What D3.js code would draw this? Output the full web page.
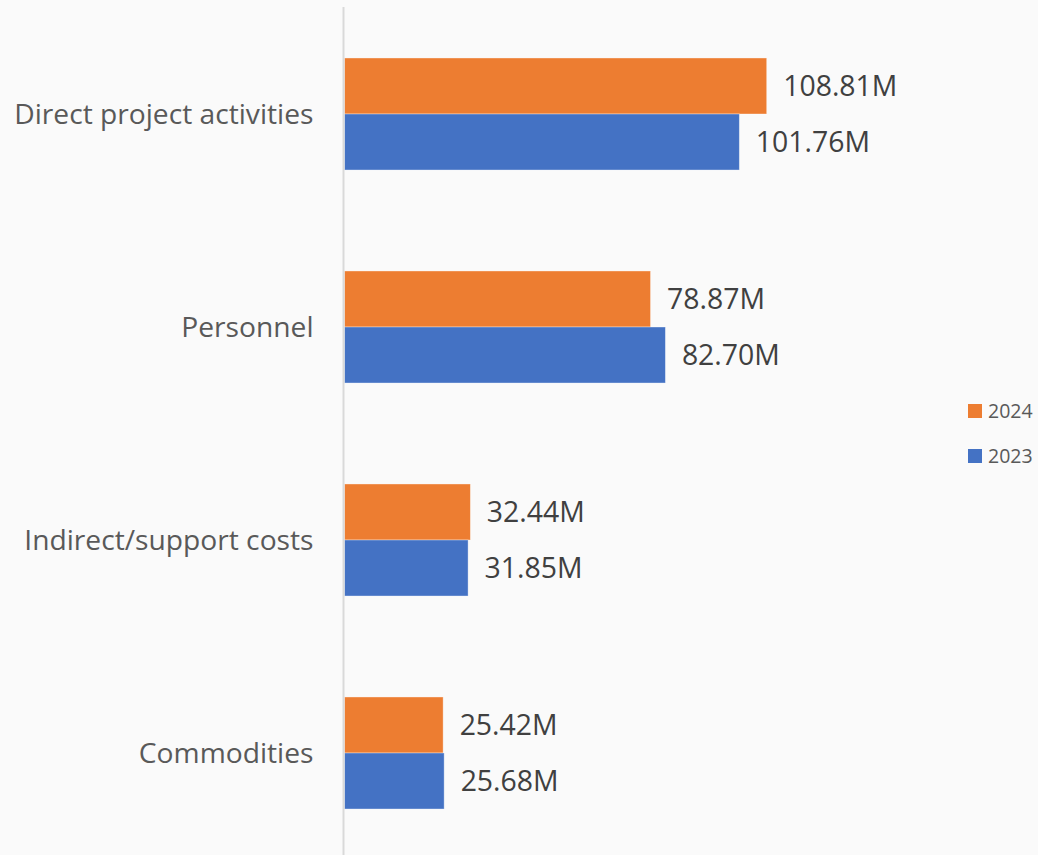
<!DOCTYPE html>
<html>
<head>
<meta charset="utf-8">
<script src="https://cdn.jsdelivr.net/npm/d3@7"></script>
<style>
  body { margin: 0; background: #fafafa; }
  svg { display: block; font-family: "Open Sans", sans-serif; }
</style>
</head>
<body>
<div id="chart"></div>
<script>
// data
const categories = ["Direct project activities", "Personnel", "Indirect/support costs", "Commodities"];
const seriesNames = ["2024", "2023"];
const values2024 = [108.81, 78.87, 32.44, 25.42];
const values2023 = [101.76, 82.70, 31.85, 25.68];
const colors = ["#ED7D31", "#4472C4"];

function drawChart() {
    var w = 1038;
    var h = 855;
    var axisX = 344.5; // where the category axis sits

    var svg = d3.select("#chart")
        .append("svg")
        .attr("width", w)
        .attr("height", h);

    svg.append("rect").attr("width", w).attr("height", h).attr("fill", "#fafafa");

    var x = d3.scaleLinear()
        .domain([0, 108.81])
        .range([axisX, 766.7]);

    var y = d3.scaleBand()
        .domain(categories)
        .range([7.5, 859.5])
        .paddingInner(0.474)
        .paddingOuter(0.237);

    var ySub = d3.scaleBand()
        .domain(seriesNames)
        .range([0, y.bandwidth()]);

    var allValues = [values2024, values2023];

    var rows = [];
    categories.forEach(function(c, i) {
        seriesNames.forEach(function(s, j) {
            rows.push({cat: c, series: s, value: allValues[j][i], color: colors[j]});
        });
    });

    // bars
    svg.selectAll("rect.bar")
        .data(rows)
        .enter()
        .append("rect")
        .attr("class", "bar")
        .attr("x", x(0))
        .attr("y", function(d) { return y(d.cat) + ySub(d.series); })
        .attr("width", function(d) { return x(d.value) - x(0); })
        .attr("height", ySub.bandwidth())
        .attr("fill", function(d) { return d.color; })
        .attr("stroke", "#ffffff")
        .attr("stroke-opacity", 0.45)
        .attr("stroke-width", 0.8);

    // value labels
    svg.selectAll("text.val")
        .data(rows)
        .enter()
        .append("text")
        .attr("class", "val")
        .attr("x", function(d) { return x(d.value) + 16.5; })
        .attr("y", function(d) { return y(d.cat) + ySub(d.series) + ySub.bandwidth() / 2; })
        .attr("dy", "0.36em")
        .attr("fill", "#404040")
        .style("font-size", "28.4px")
        .text(function(d) { return d.value.toFixed(2) + "M"; });

    // category axis (line only, labels to the left)
    var yAxis = d3.axisLeft(y).tickSize(0).tickPadding(31);
    var gAxis = svg.append("g")
        .attr("transform", "translate(" + axisX + ",0)")
        .call(yAxis);
    gAxis.select(".domain").remove();
    gAxis.selectAll("text")
        .attr("fill", "#595959")
        .attr("dy", "0.36em")
        .style("font-size", "28.2px")
        .style("font-family", "'Open Sans', sans-serif");

    svg.append("line")
        .attr("x1", axisX - 1).attr("x2", axisX - 1)
        .attr("y1", 7).attr("y2", h)
        .attr("stroke", "#d9d9d9")
        .attr("stroke-width", 2);

    // legend
    var legend = svg.selectAll("g.legend")
        .data(seriesNames)
        .enter()
        .append("g")
        .attr("class", "legend")
        .attr("transform", function(d, i) { return "translate(968," + (404 + i * 45) + ")"; });

    legend.append("rect")
        .attr("width", 14)
        .attr("height", 14)
        .attr("fill", function(d, i) { return colors[i]; });

    legend.append("text")
        .attr("x", 20)
        .attr("y", 7)
        .attr("dy", "0.36em")
        .attr("fill", "#595959")
        .style("font-size", "19.5px")
        .text(function(d) { return d; });
}

drawChart();
</script>
</body>
</html>
